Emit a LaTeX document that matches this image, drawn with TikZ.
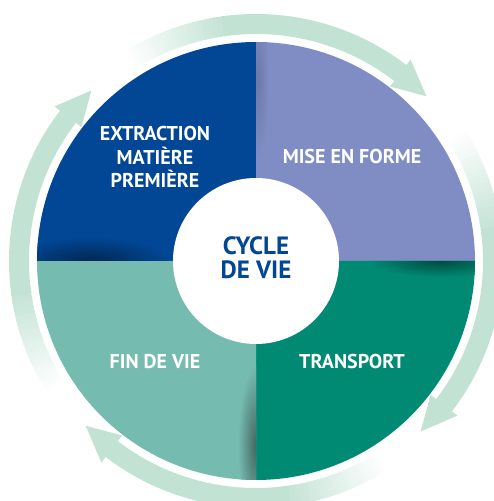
\documentclass[tikz,border=0pt]{standalone}
\usepackage{fontspec}
\setmainfont{PT Sans}
\usepackage{xcolor}
\definecolor{extrblue}{RGB}{1,71,149}
\definecolor{formepurple}{RGB}{127,141,196}
\definecolor{transgreen}{RGB}{0,137,115}
\definecolor{finteal}{RGB}{118,187,176}
\definecolor{ringgreen}{RGB}{194,226,212}
\newcommand{\quadR}{219}

\begin{document}
\begin{tikzpicture}[x=1pt,y=1pt,
    label/.style={text=white,font=\bfseries\fontsize{20}{23.5}\selectfont,align=center},
    title/.style={text=extrblue,font=\bfseries\fontsize{25}{24}\selectfont,align=center}]
    \useasboundingbox (0,0) rectangle (494,501);
    \coordinate (c) at (256,240);

    % QUADRANTS
    \fill[extrblue] (c) -- ++(90:\quadR) arc[start angle=90,end angle=180,radius=\quadR] -- cycle;
    \fill[formepurple] (c) -- ++(0:\quadR) arc[start angle=0,end angle=90,radius=\quadR] -- cycle;
    \fill[transgreen] (c) -- ++(-90:\quadR) arc[start angle=-90,end angle=0,radius=\quadR] -- cycle;
    \fill[finteal] (c) -- ++(180:\quadR) arc[start angle=180,end angle=270,radius=\quadR] -- cycle;

    % shadows along the splits
    \begin{scope}
        \clip (c) -- ++(90:\quadR) arc[start angle=90,end angle=180,radius=\quadR] -- cycle;
        \shade[inner color=extrblue!55!black, outer color=extrblue] (90,240) ellipse (80 and 24);
    \end{scope}
    \begin{scope}
        \clip (c) -- ++(0:\quadR) arc[start angle=0,end angle=90,radius=\quadR] -- cycle;
        \shade[inner color=formepurple!85!black, outer color=formepurple] (257,420) ellipse (12 and 80);
    \end{scope}
    \begin{scope}
        \clip (c) -- ++(-90:\quadR) arc[start angle=-90,end angle=0,radius=\quadR] -- cycle;
        \shade[inner color=transgreen!55!black, outer color=transgreen] (440,240) ellipse (70 and 16);
    \end{scope}
    \begin{scope}
        \clip (c) -- ++(180:\quadR) arc[start angle=180,end angle=270,radius=\quadR] -- cycle;
        \shade[inner color=finteal!55!black, outer color=finteal] (256,55) ellipse (18 and 80);
    \end{scope}

    % CENTER
    \fill[white] (c) circle (83);
    \node[title] (cycle) at (256,243) {CYCLE\\DE VIE};

    \node[label] (extr) at (155,344) {EXTRACTION\\MATIÈRE\\PREMIÈRE};
    \node[label] (forme) at (352,344) {MISE EN FORME};
    \node[label] (fin) at (155,139) {FIN DE VIE};
    \node[label] (transport) at (352,139) {TRANSPORT};

    % RING: four arrows, faded at their start
    \begin{scope}[shift={(c)}]
        \foreach \t in {134,44,-46,-136} {
            \foreach \i in {0,...,24} {
                \pgfmathtruncatemacro\pct{4*\i+2}
                \draw[line width=20pt, draw=ringgreen!\pct!white]
                    ({\t+78-\i}:237) arc[start angle=\t+78-\i, end angle=\t+76.6-\i, radius=237];
            }
            \draw[line width=20pt, ringgreen] ({\t+54}:237) arc[start angle=\t+54, end angle=\t+6, radius=237];
            \fill[ringgreen] ({\t+8.5}:220) -- (\t:237) -- ({\t+8.5}:254) -- cycle;
        }
    \end{scope}
\end{tikzpicture}
\end{document}
